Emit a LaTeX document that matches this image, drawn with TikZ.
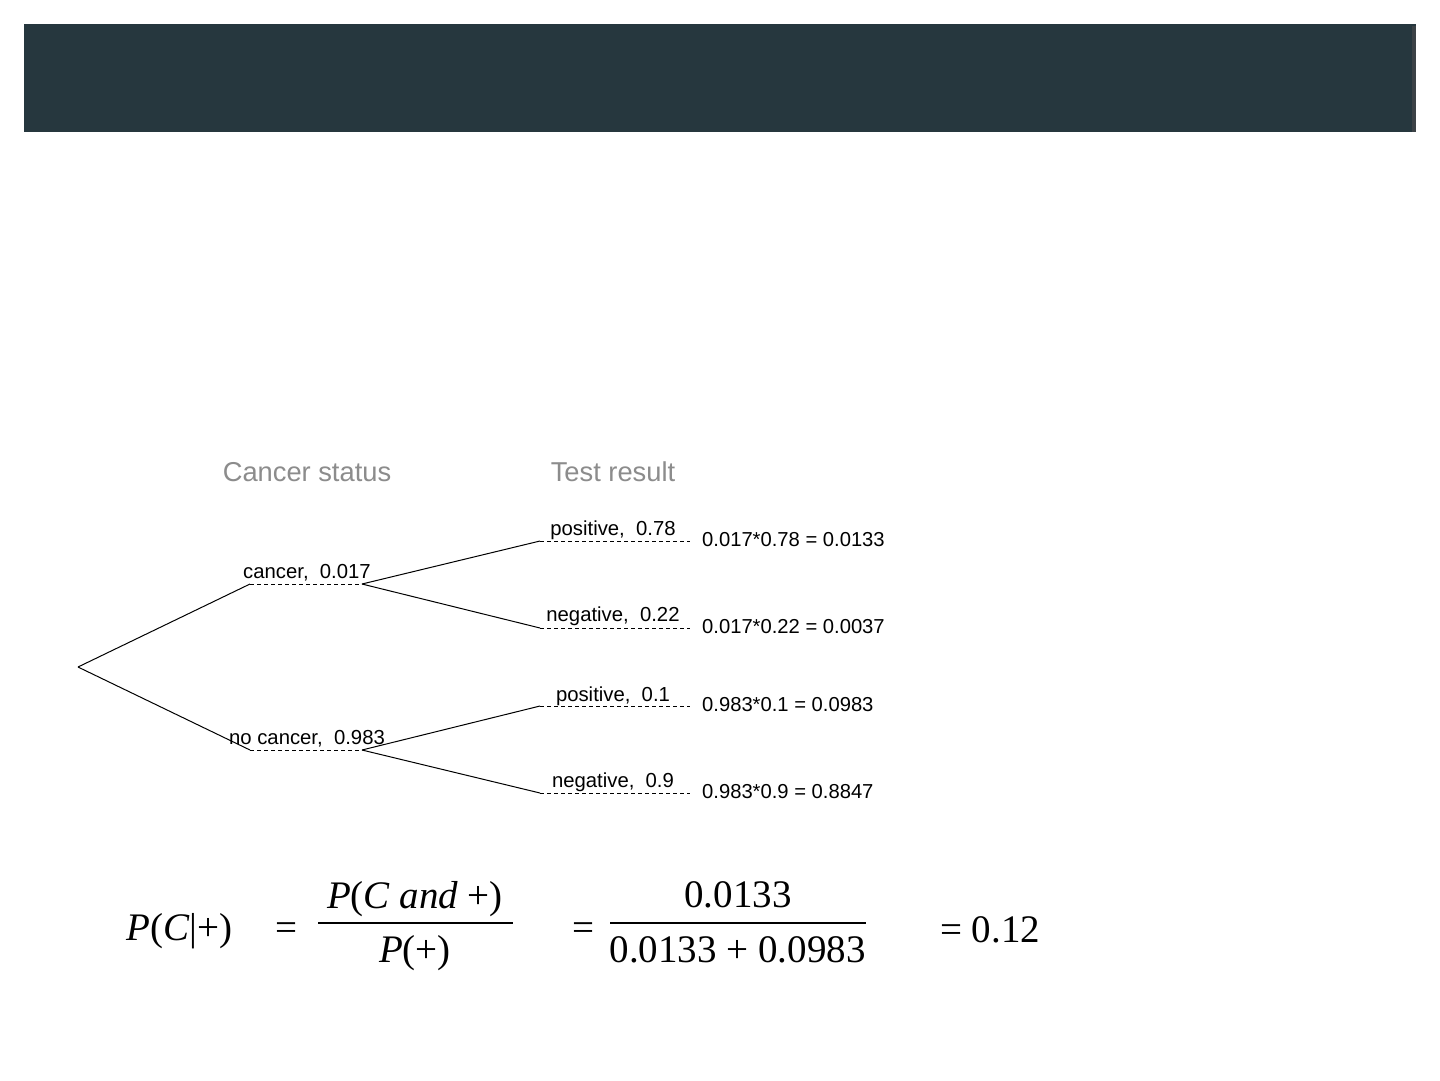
\documentclass[tikz,border=0pt]{standalone}
\usepackage{fontspec}
\setmainfont{Liberation Serif}
\newfontfamily\arial{Liberation Sans}
\definecolor{hdr}{RGB}{38,55,62}
\definecolor{hdrdark}{RGB}{60,66,70}
\definecolor{headgray}{RGB}{140,140,140}
\begin{document}
\begin{tikzpicture}[x=1pt,y=-1pt,
  branch/.style={draw=black,line width=1pt},
  dotline/.style={draw=black,line width=0.9pt,dash pattern=on 4pt off 3pt},
  lab/.style={font=\arial\fontsize{20.3}{23}\selectfont,anchor=base,inner sep=0pt},
  res/.style={lab,anchor=base west,font=\arial\fontsize{20.2}{23}\selectfont},
  head/.style={font=\arial\fontsize{27.3}{30}\selectfont,text=headgray,anchor=base,inner sep=0pt},
  fm/.style={font=\fontsize{39}{44}\selectfont,anchor=base,inner sep=0pt},
  fbar/.style={draw=black,line width=1.5pt}]
\useasboundingbox (0,0) rectangle (1440,1080);
\fill[white] (0,0) rectangle (1440,1080);
\fill[hdr] (24,24) rectangle (1416,132);
\fill[hdrdark] (1412,26) rectangle (1416,132);

% column headings
\node[head] (hcs) at (307,481) {Cancer status};
\node[head] (htr) at (613,481) {Test result};

% tree coordinates
\coordinate (root) at (78,667);
\coordinate (cA) at (250,584);
\coordinate (cB) at (362,584);
\coordinate (nA) at (250,750);
\coordinate (nB) at (362,750);
\coordinate (p1A) at (540,541);
\coordinate (p1B) at (690,541);
\coordinate (n1A) at (540,628);
\coordinate (n1B) at (690,628);
\coordinate (p2A) at (540,706);
\coordinate (p2B) at (690,706);
\coordinate (n2A) at (540,793);
\coordinate (n2B) at (690,793);

% branches
\draw[branch] (root) -- (cA);
\draw[branch] (root) -- (nA);
\draw[dotline] (cA) -- (cB);
\draw[dotline] (nA) -- (nB);
\draw[branch] (cB) -- (p1A);
\draw[branch] (cB) -- (n1A);
\draw[branch] (nB) -- (p2A);
\draw[branch] (nB) -- (n2A);
\draw[dotline] (p1A) -- (p1B);
\draw[dotline] (n1A) -- (n1B);
\draw[dotline] (p2A) -- (p2B);
\draw[dotline] (n2A) -- (n2B);

% branch labels
\node[lab] (lc) at (307,578) {cancer,\ \ 0.017};
\node[lab] (lnc) at (307,744) {no cancer,\ \ 0.983};
\node[lab] (lp1) at (613,535) {positive,\ \ 0.78};
\node[lab] (ln1) at (613,621) {negative,\ \ 0.22};
\node[lab] (lp2) at (613,701) {positive,\ \ 0.1};
\node[lab] (ln2) at (613,787) {negative,\ \ 0.9};

% results
\node[res] (r1) at (702,546) {0.017*0.78 = 0.0133};
\node[res] (r2) at (702,633) {0.017*0.22 = 0.0037};
\node[res] (r3) at (702,711) {0.983*0.1 = 0.0983};
\node[res] (r4) at (702,798) {0.983*0.9 = 0.8847};

% formula
\node[fm,anchor=base west] (pcp) at (126,940) {\textit{P}(\textit{C}|+)};
\node[fm] (eq1) at (286.5,940) {=};
\node[fm] (num1) at (415,908) {\textit{P}(\textit{C and} +)};
\node[fm] (den1) at (415,962) {\textit{P}(+)};
\coordinate (b1a) at (318,923);
\coordinate (b1b) at (513,923);
\draw[fbar] (b1a) -- (b1b);
\node[fm] (eq2) at (583.5,940) {=};
\node[fm] (num2) at (738,907) {0.0133};
\node[fm] (den2) at (737.5,962) {0.0133 + 0.0983};
\coordinate (b2a) at (610,923);
\coordinate (b2b) at (866,923);
\draw[fbar] (b2a) -- (b2b);
\node[fm,anchor=base west] (res) at (940,942) {= 0.12};
\end{tikzpicture}
\end{document}
